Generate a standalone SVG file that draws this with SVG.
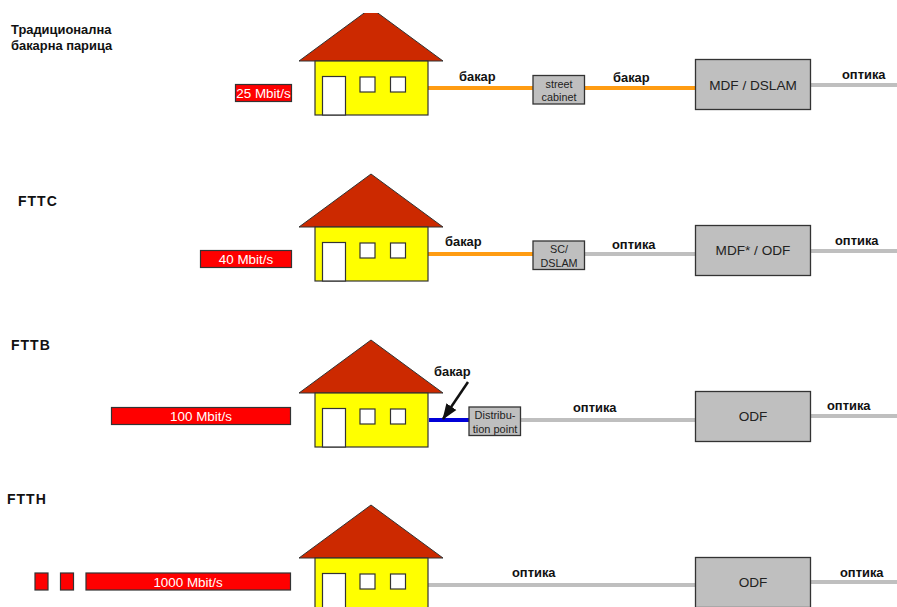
<svg xmlns="http://www.w3.org/2000/svg" xmlns:xlink="http://www.w3.org/1999/xlink" width="897" height="607" viewBox="0 0 897 607">
<style>
text{font-family:"Liberation Sans",Arial,sans-serif}
.lbl{font-size:12.900px;font-weight:bold;fill:#111}
.head{font-size:14px;font-weight:bold;fill:#111;letter-spacing:1px}
.sp{font-size:13.400px;fill:#fff;text-anchor:middle}
.box{fill:#bfbfbf;stroke:#333;stroke-width:1.3}
.t{fill:#222;text-anchor:middle}
.bar{fill:#f00;stroke:#333;stroke-width:1.2}
.cu{stroke:#ff9c12;stroke-width:4;fill:none}
.op{stroke:#bfbfbf;stroke-width:4;fill:none}
.roof{fill:#cc2900;stroke:#333;stroke-width:1}
.body{fill:#ff0;stroke:#333;stroke-width:1.2}
.win{fill:#fff;stroke:#333;stroke-width:1.2}
</style>
<defs>
<g id="house">
<polygon class="roof" points="299,53 371,0 443,53"/>
<rect class="body" x="315" y="53" width="113" height="54"/>
<rect class="win" x="322.500" y="68.500" width="23" height="38.500"/>
<rect class="win" x="360" y="69" width="15" height="15"/>
<rect class="win" x="390.500" y="69" width="15" height="15"/>
</g>
<marker id="arr" markerUnits="userSpaceOnUse" markerWidth="16" markerHeight="16" refX="15" refY="8" orient="auto"><path d="M0,2 L16,8 L0,14 Z" fill="#111"/></marker>
</defs>
<rect width="897" height="607" fill="#fff"/>
<g id="connectors">
<path class="cu" d="M428,88 H533"/>
<path class="cu" d="M585,88 H695"/>
<path class="op" d="M811,85 H897"/>
<path class="cu" d="M428,254 H533"/>
<path class="op" d="M585,254 H695"/>
<path class="op" d="M811,251 H897"/>
<path d="M429,420 H469" stroke="#0000d8" stroke-width="4" fill="none"/>
<path class="op" d="M521,420 H695"/>
<path class="op" d="M811,416 H897"/>
<path class="op" d="M428,585 H695"/>
<path class="op" d="M811,582 H897"/>
<path d="M468,382 L443,419" stroke="#111" stroke-width="2.500" fill="none" marker-end="url(#arr)"/>
</g>
<g id="house-1"><use xlink:href="#house" href="#house" y="8"/><rect x="290" y="0" width="160" height="13" fill="#fff"/></g>
<g id="house-2"><use xlink:href="#house" href="#house" y="174"/></g>
<g id="house-3"><use xlink:href="#house" href="#house" y="340"/></g>
<g id="house-4"><use xlink:href="#house" href="#house" y="505"/></g>
<g id="title-copper"><text class="lbl" x="11" y="34">Традиционална</text><text class="lbl" x="11" y="50">бакарна парица</text></g>
<g id="title-fttc"><text class="head" x="18" y="206">FTTC</text></g>
<g id="title-fttb"><text class="head" x="11" y="350">FTTB</text></g>
<g id="title-ftth"><text class="head" x="7" y="504">FTTH</text></g>
<g id="speed-25"><rect class="bar" x="235.500" y="84.500" width="56" height="17"/><text class="sp" x="263.500" y="98">25 Mbit/s</text></g>
<g id="speed-40"><rect class="bar" x="200.500" y="250.500" width="91" height="17"/><text class="sp" x="246" y="264">40 Mbit/s</text></g>
<g id="speed-100"><rect class="bar" x="111.500" y="407.500" width="179" height="17"/><text class="sp" x="201" y="421">100 Mbit/s</text></g>
<g id="speed-1000"><rect class="bar" x="35" y="573" width="13" height="17"/><rect class="bar" x="60.500" y="573" width="13" height="17"/><rect class="bar" x="86" y="573" width="204.500" height="17"/><text class="sp" x="188" y="587">1000 Mbit/s</text></g>
<g id="street-cabinet"><rect class="box" x="533" y="75.500" width="51.500" height="28.500"/><text class="t" font-size="10.800" x="559" y="88">street</text><text class="t" font-size="10.800" x="559" y="101">cabinet</text></g>
<g id="sc-dslam"><rect class="box" x="533" y="241" width="51.500" height="28.500"/><text class="t" font-size="10.800" x="559" y="253">SC/</text><text class="t" font-size="10.800" x="559" y="266.500">DSLAM</text></g>
<g id="distribution-point"><rect class="box" x="469" y="407" width="51.500" height="28.500"/><text class="t" font-size="11" x="495" y="419">Distribu-</text><text class="t" font-size="11" x="495" y="433">tion point</text></g>
<g id="mdf-dslam"><rect class="box" x="695.500" y="59.500" width="115" height="50"/><text class="t" font-size="13.600" x="753" y="90">MDF / DSLAM</text></g>
<g id="mdf-odf"><rect class="box" x="695.500" y="225.500" width="115" height="50"/><text class="t" font-size="13.600" x="753" y="255">MDF* / ODF</text></g>
<g id="odf-3"><rect class="box" x="695.500" y="391.500" width="115" height="50"/><text class="t" font-size="13.600" x="753" y="421">ODF</text></g>
<g id="odf-4"><rect class="box" x="695.500" y="557.500" width="115" height="50"/><text class="t" font-size="13.600" x="753" y="587">ODF</text></g>
<g id="labels">
<text class="lbl" x="459" y="81">бакар</text>
<text class="lbl" x="613" y="82">бакар</text>
<text class="lbl" x="842" y="79">оптика</text>
<text class="lbl" x="445" y="246">бакар</text>
<text class="lbl" x="612" y="249">оптика</text>
<text class="lbl" x="835" y="245">оптика</text>
<text class="lbl" x="434" y="376">бакар</text>
<text class="lbl" x="573" y="412">оптика</text>
<text class="lbl" x="827" y="410">оптика</text>
<text class="lbl" x="512" y="577">оптика</text>
<text class="lbl" x="840" y="577">оптика</text>
</g>
</svg>
